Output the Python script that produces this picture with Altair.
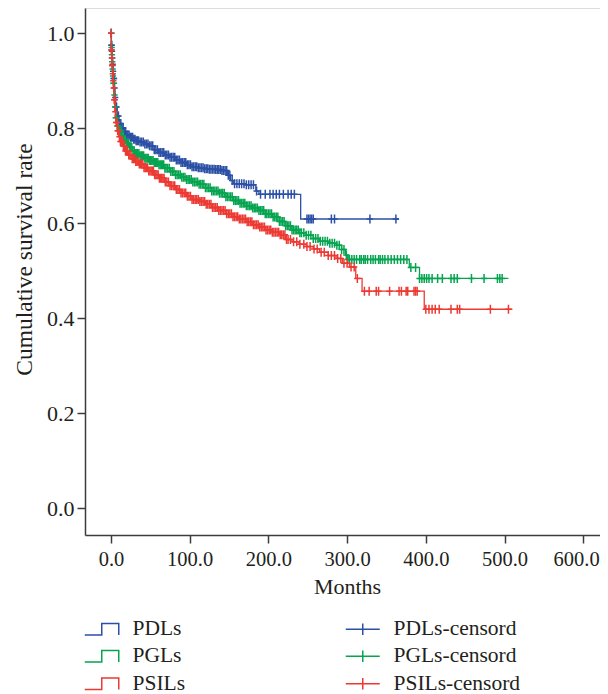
import altair as alt
import numpy as np
import pandas as pd

# ---------------- data ----------------
groups = ["PDLs", "PGLs", "PSILs"]
censor_names = ["PDLs-censord", "PGLs-censord", "PSILs-censord"]
colors = ["#2b50a5", "#06a450", "#ec3a33"]

pdl_t = [0, 0.5, 1, 1.5, 2, 2.5, 3, 4, 5, 6, 8, 10, 13, 16, 20, 24, 28, 31, 36, 42,
         48, 55, 61, 68, 75, 82, 89, 96, 103, 110, 118, 125, 133, 141, 148, 152, 156, 170, 184, 188,
         241, 366]
pdl_s = [1.0, 0.975, 0.962, 0.948, 0.935, 0.92, 0.905, 0.885, 0.865, 0.845, 0.826, 0.81, 0.8, 0.793,
         0.786, 0.781, 0.777, 0.774, 0.771, 0.767, 0.763, 0.755, 0.749, 0.744, 0.739, 0.733, 0.728,
         0.723, 0.719, 0.717, 0.715, 0.714, 0.713, 0.711, 0.701, 0.69, 0.683, 0.681, 0.668, 0.661,
         0.609, 0.609]

pgl_t = [0, 0.5, 1, 1.5, 2, 2.5, 3, 4, 5, 6, 8, 10, 13, 16, 19, 23, 27, 31, 36, 42,
         48, 55, 61, 68, 75, 82, 89, 96, 103, 112, 120, 128, 137, 146, 155, 163, 172, 180, 188, 196,
         205, 214, 222, 230, 239, 248, 257, 265, 276, 286, 293, 298, 301, 379, 392, 505]
pgl_s = [1.0, 0.97, 0.955, 0.94, 0.925, 0.91, 0.895, 0.87, 0.845, 0.822, 0.805, 0.795, 0.784, 0.776,
         0.769, 0.76, 0.752, 0.747, 0.742, 0.737, 0.732, 0.728, 0.723, 0.716, 0.709, 0.702, 0.697,
         0.692, 0.687, 0.682, 0.675, 0.668, 0.663, 0.656, 0.648, 0.642, 0.637, 0.632, 0.627, 0.62,
         0.613, 0.604, 0.595, 0.586, 0.58, 0.575, 0.568, 0.562, 0.558, 0.554, 0.545, 0.533, 0.524,
         0.507, 0.484, 0.484]

psil_t = [0, 0.5, 1, 1.5, 2, 2.5, 3, 4, 5, 6, 8, 10, 12, 15, 18, 22, 26, 31, 36, 42,
          48, 55, 61, 68, 75, 82, 89, 96, 103, 112, 120, 128, 137, 146, 155, 163, 172, 180, 188, 196,
          205, 214, 222, 230, 239, 248, 257, 265, 276, 286, 294, 303, 311, 319, 398, 510]
psil_s = [1.0, 0.965, 0.948, 0.932, 0.915, 0.9, 0.885, 0.86, 0.835, 0.812, 0.795, 0.782, 0.772, 0.762,
          0.752, 0.744, 0.736, 0.73, 0.725, 0.717, 0.71, 0.702, 0.695, 0.687, 0.679, 0.671, 0.664,
          0.657, 0.65, 0.646, 0.64, 0.633, 0.627, 0.62, 0.614, 0.609, 0.603, 0.597, 0.592, 0.586,
          0.581, 0.576, 0.566, 0.561, 0.556, 0.551, 0.546, 0.539, 0.532, 0.526, 0.516, 0.508, 0.484,
          0.457, 0.419, 0.419]

pdl_cens = [0.3, 0.6, 0.9, 1.3, 1.7, 2.2, 2.7, 3.3, 3.9, 4.6, 5.4, 6.2, 7.1, 8.3, 9.5, 11, 12.5, 14,
            15.5, 17, 18.5, 20, 21.5, 23, 24.5, 26, 27.5, 29, 30.5, 32, 33.5, 35, 37, 39, 41, 43, 45,
            47, 49, 51, 53, 55, 57, 59, 61, 63, 65, 67, 69, 71, 73, 75, 77, 79, 81, 83, 85, 87, 89,
            91, 93, 95, 97, 99, 101, 103, 105, 107, 109, 111, 113, 115, 117, 119, 121, 123, 125, 127,
            129, 131, 133, 135, 137, 139, 141, 143, 145, 147, 149, 151, 154, 157, 160, 163, 166, 169,
            172, 175, 178, 181, 185, 190, 196, 202, 206, 210, 214, 219, 225, 229, 233, 249, 251, 253,
            255, 257, 280, 284, 329, 362]

pgl_cens = [0.4, 0.8, 1.2, 1.6, 2.1, 2.6, 3.2, 3.8, 4.5, 5.3, 6.1, 7, 8, 9, 10.2, 11.5, 12.8, 14,
            15.3, 16.6, 18, 19.4, 20.8, 22.2, 23.6, 25, 26.5, 28, 29.5, 31, 32.5, 34, 35.5, 37, 38.5,
            40, 41.5, 43, 44.5, 46, 47.5, 49, 50.5, 52, 53.5, 55, 56.5, 58, 59.5, 61, 62.5, 64, 65.5,
            67, 68.5, 70, 72, 74, 76, 78, 80, 82, 84, 86, 88, 90, 92, 94, 96, 98, 100, 102, 104, 106,
            108, 110, 112, 114, 116, 118, 120, 122, 124, 126, 128, 130, 132, 134, 136, 138, 140, 142,
            144, 146, 148, 150, 152, 154, 156, 158, 160, 162, 164, 166, 168, 170, 172, 174, 176, 178,
            180, 182, 184, 186, 188, 190, 192, 194, 196, 198, 200, 202, 204, 206, 208, 210, 212, 214,
            216, 218, 220, 222, 224, 226, 228, 230, 232, 234, 236, 238, 240, 242, 245, 248, 251, 254,
            257, 260, 263, 266, 269, 272, 275, 278, 281, 284, 287, 290, 293, 296, 299, 301, 303, 306,
            309, 312, 316, 318, 321, 323, 326, 330, 333, 336, 340, 342, 345, 348, 352, 356, 360, 364,
            368, 372, 376, 381, 387, 392, 395, 398, 401, 404, 408, 415, 421, 432, 436, 440, 458, 474,
            491, 494, 497]

psil_cens = [0.2, 0.5, 0.8, 1.1, 1.5, 1.9, 2.4, 2.9, 3.5, 4.1, 4.8, 5.6, 6.5, 7.5, 8.5, 9.6, 10.8,
             12, 13.2, 14.5, 15.8, 17.1, 18.4, 19.8, 21.2, 22.6, 24, 25.5, 27, 28.5, 30, 31.5, 33,
             34.5, 36, 37.5, 39, 40.5, 42, 43.5, 45, 46.5, 48, 49.5, 51, 52.5, 54, 55.5, 57, 58.5, 60,
             61.5, 63, 64.5, 66, 67.5, 69, 71, 73, 75, 77, 79, 81, 83, 85, 87, 89, 91, 93, 95, 97, 99,
             101, 103, 105, 107, 109, 111, 113, 115, 117, 119, 121, 123, 125, 127, 129, 131, 133, 135,
             137, 139, 141, 143, 145, 147, 149, 151, 153, 155, 157, 159, 161, 163, 165, 167, 169, 171,
             173, 175, 177, 179, 181, 183, 185, 187, 189, 191, 193, 195, 197, 199, 201, 203, 205, 207,
             209, 211, 213, 215, 217, 219, 221, 223, 225, 228, 232, 236, 240, 245, 249, 253, 258, 262,
             267, 271, 276, 280, 284, 288, 292, 296, 300, 305, 309, 313, 322, 328, 337, 340, 354, 366,
             369, 375, 377, 385, 387, 389, 400, 404, 408, 412, 417, 432, 440, 443, 482, 505]

x_ticks = [0, 100, 200, 300, 400, 500, 600]
y_ticks = [0.0, 0.2, 0.4, 0.6, 0.8, 1.0]

# ---------------- build tables ----------------
curves = [(pdl_t, pdl_s, pdl_cens), (pgl_t, pgl_s, pgl_cens), (psil_t, psil_s, psil_cens)]
line_frames, cens_frames = [], []
for g, cn, (t, s, c) in zip(groups, censor_names, curves):
    line_frames.append(pd.DataFrame({"series": g, "month": t, "surv": s}))
    t_arr, s_arr = np.array(t), np.array(s)
    idx = np.searchsorted(t_arr, np.array(c), side="right") - 1
    cens_frames.append(pd.DataFrame({"series": cn, "month": c, "surv": s_arr[idx]}))
line_df = pd.concat(line_frames, ignore_index=True)
cens_df = pd.concat(cens_frames, ignore_index=True)

# legend entries are laid out column by column
legend_domain = groups + censor_names
legend_colors = colors + colors
step_path = "M-1,1.15H2.4V-1.15H5.8V1.15"
plus_path = "M-1,0H5.8M2.4,-1.15V1.15"
legend_shapes = [step_path] * 3 + [plus_path] * 3
carrier_df = pd.DataFrame({"series": legend_domain, "month": [np.nan] * 6, "surv": [np.nan] * 6})

FONT = "Liberation Serif"
TXT = "#231f20"

color_scale = alt.Scale(domain=legend_domain, range=legend_colors)
shape_scale = alt.Scale(domain=legend_domain, range=legend_shapes)
legend = alt.Legend(title=None, orient="none", legendX=-6, legendY=610, columns=2,
                    columnPadding=154, rowPadding=4.5, symbolSize=100, symbolStrokeWidth=1.5,
                    symbolFillColor="transparent", symbolOpacity=1,
                    labelFont=FONT, labelFontSize=21.5, labelColor=TXT, labelOffset=32,
                    labelLimit=300, padding=0)

x_enc = alt.X("month:Q", scale=alt.Scale(domain=[-33, 621.3], nice=False, zero=False),
              axis=alt.Axis(title="Months", values=x_ticks, format=".1f", grid=False,
                            tickSize=8, labelPadding=6, labelFont=FONT, labelFontSize=20.5,
                            labelColor=TXT, titleFont=FONT, titleFontSize=22, titleFontWeight="normal",
                            titleColor=TXT, titleX=262, titleY=58, titleBaseline="alphabetic",
                            titleAlign="center", domainColor="#3c3c3c", tickColor="#3c3c3c",
                            domainWidth=1.5, tickWidth=1.5, labelFlush=20, labelFlushOffset=16))
y_enc = alt.Y("surv:Q", scale=alt.Scale(domain=[-0.0562, 1.0532], nice=False, zero=False),
              axis=alt.Axis(title="Cumulative survival rate", values=y_ticks, format=".1f", grid=False,
                            tickSize=8, labelPadding=3, labelFont=FONT, labelFontSize=22,
                            labelColor=TXT, titleFont=FONT, titleFontSize=23.5, titleFontWeight="normal",
                            titleColor=TXT, titleX=-61, titleY=251, titleAngle=270,
                            titleBaseline="middle", titleAlign="center",
                            domainColor="#3c3c3c", tickColor="#3c3c3c", domainWidth=1.5,
                            tickWidth=1.5, labelFlush=False))

carrier = alt.Chart(carrier_df).mark_point(filled=False, opacity=1, strokeWidth=1.5).encode(
    x=x_enc, y=y_enc,
    color=alt.Color("series:N", scale=color_scale, legend=legend),
    shape=alt.Shape("series:N", scale=shape_scale, legend=legend),
)

layers = [carrier]
for g, cn in zip(groups, censor_names):
    ln = alt.Chart(line_df[line_df.series == g]).mark_line(
        interpolate="step-after", strokeWidth=1.3).encode(
        x=x_enc, y=y_enc, color=alt.Color("series:N", scale=color_scale, legend=legend))
    pt = alt.Chart(cens_df[cens_df.series == cn]).mark_point(
        shape="M-0.7,0H0.7M0,-1V1", size=81, filled=False, opacity=1, strokeWidth=1.5).encode(
        x=x_enc, y=y_enc, color=alt.Color("series:N", scale=color_scale, legend=legend))
    layers += [ln, pt]

chart = alt.layer(*layers).properties(
    width=515, height=527,
    padding={"left": 77, "top": 0, "right": 0, "bottom": 159},
    autosize=alt.AutoSizeParams(type="none"),
).configure_view(stroke=None).configure(background="white")

chart.save("out.html", embed_options={"renderer": "svg", "actions": False})
